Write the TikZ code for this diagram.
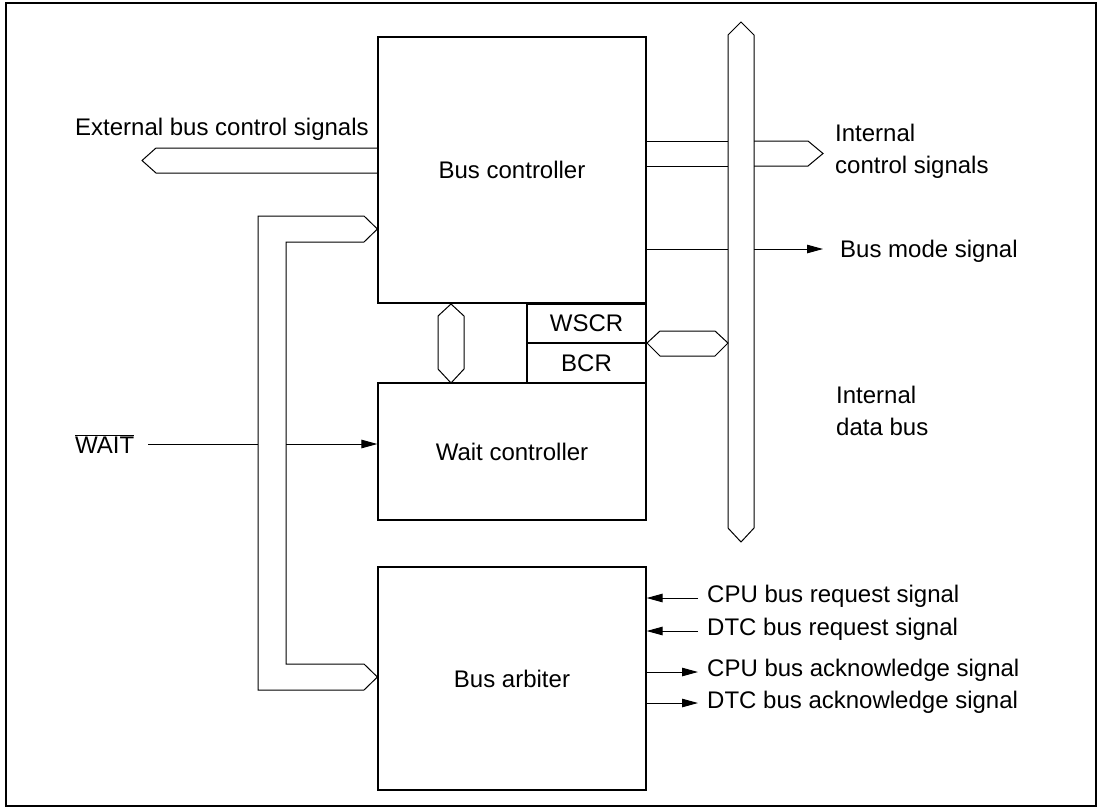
\documentclass[tikz,border=0pt]{standalone}
\usepackage{fontspec}
\setmainfont{Liberation Sans}
\usetikzlibrary{arrows.meta}
\begin{document}
\begin{tikzpicture}[x=1pt,y=-1pt,
  every node/.style={font=\fontsize{24}{28}\selectfont},
  line/.style={line width=1pt, line join=miter},
  blk/.style={draw, line width=1.2pt, rectangle, inner sep=0pt},
  lbl/.style={anchor=base west, inner sep=0pt},
  arr/.style={line width=1pt, -{Triangle[length=16pt,width=8.5pt]}}
]
\useasboundingbox (0,0) rectangle (1099,807);
\draw[line width=1.2pt] (6,3) rectangle (1096,806);

% blocks
\node[blk, minimum width=268pt, minimum height=266pt] (bc) at (512,170) {Bus controller};
\node[blk, minimum width=119pt, minimum height=39pt] (wscr) at (586.5,323.5) {WSCR};
\node[blk, minimum width=119pt, minimum height=40pt] (bcr) at (586.5,363) {BCR};
\node[blk, minimum width=268pt, minimum height=137pt] (wc) at (512,451.5) {Wait controller};
\node[blk, minimum width=268pt, minimum height=223pt] (ba) at (512,678.5) {Bus arbiter};

% internal data bus
\draw[line] (728,35) -- (741,22) -- (754,35) -- (754,528) -- (741,542) -- (728,528) -- cycle;
\node[lbl] (idb1) at (836,403) {Internal};
\node[lbl] (idb2) at (836,435) {data bus};

% bus between bus controller and wait controller
\draw[line] (451,304) -- (464,316) -- (464,369) -- (451,383) -- (438,369) -- (438,316) -- cycle;
% bus between registers and internal data bus
\draw[line] (647,343) -- (660,331) -- (715,331) -- (728,343) -- (715,356) -- (660,356) -- cycle;

% external bus control signals
\node[lbl] (ext) at (75,135) {External bus control signals};
\draw[line] (bc.west |- 0,148) -- (156,148) -- (142,160.5) -- (156,173) -- (bc.west |- 0,173);

% internal control signals
\node[lbl] (ics1) at (835,141) {Internal};
\node[lbl] (ics2) at (835,173) {control signals};
\draw[line] (bc.east |- 0,141) -- (728,141);
\draw[line] (bc.east |- 0,166) -- (728,166);
\draw[line] (754,141) -- (808,141) -- (823,153.5) -- (808,166) -- (754,166);

% bus mode signal
\node[lbl] (bms) at (840,257) {Bus mode signal};
\draw[line] (bc.east |- 0,249) -- (728,249);
\draw[arr] (754,249) -- (823,249);

% left L-shaped bus to bus controller and bus arbiter
\draw[line] (258,690) -- (258,216) -- (364,216) -- (bc.west |- 0,229) -- (364,242) -- (286,242)
  -- (286,664) -- (364,664) -- (ba.west |- 0,677) -- (364,690) -- cycle;

% WAIT
\node[lbl] (wait) at (75,453) {$\overline{\hbox{WAIT}}$};
\coordinate (w1) at (148,444);
\draw[line] (w1) -- (258,444);
\draw[arr] (286,444) -- (wc.west |- 0,444);

% bus arbiter signals
\node[lbl] (cbr) at (707,602) {CPU bus request signal};
\node[lbl] (dbr) at (707,635) {DTC bus request signal};
\node[lbl] (cba) at (707,676) {CPU bus acknowledge signal};
\node[lbl] (dba) at (707,708) {DTC bus acknowledge signal};
\draw[arr] (698,598) -- (ba.east |- 0,598);
\draw[arr] (698,631) -- (ba.east |- 0,631);
\draw[arr] (ba.east |- 0,672) -- (698,672);
\draw[arr] (ba.east |- 0,703) -- (698,703);
\end{tikzpicture}
\end{document}
